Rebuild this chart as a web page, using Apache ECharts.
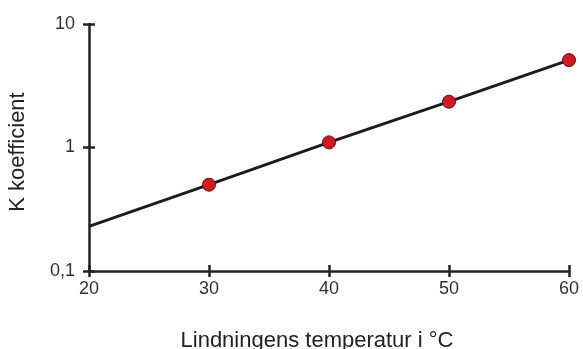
<!DOCTYPE html>
<html><head><meta charset="utf-8">
<script src="https://cdn.jsdelivr.net/npm/echarts@6/dist/echarts.min.js"></script>
<style>html,body{margin:0;padding:0;background:#fff}#c{width:583px;height:349px}</style>
</head><body><div id="c"></div>
<script>
var temps = [20, 30, 40, 50, 60];
var kValues = [0.23, 0.5, 1.1, 2.35, 5.1];
var showMarker = [false, true, true, true, true];
var xTicks = [20, 30, 40, 50, 60];
var yTickLabels = {0.1: '0,1', 1: '1', 10: '10'};
var xName = 'Lindningens temperatur i °C';
var yName = 'K koefficient';

var font = 'Liberation Sans, Arial, sans-serif';
var axisColor = '#222';
var data = temps.map(function (t, i) {
  return { value: [t, kValues[i]], symbolSize: showMarker[i] ? 13 : 0 };
});
function xAxisBase(inside) {
  return {
    type: 'value', position: 'bottom', min: xTicks[0], max: xTicks[xTicks.length - 1], interval: 10,
    axisLine: { show: !inside, lineStyle: { color: axisColor, width: 2.5 } },
    axisTick: { show: true, inside: inside, length: 6, lineStyle: { color: axisColor, width: 2.5 } },
    axisLabel: { show: !inside, color: '#333', fontFamily: font, fontSize: 18, margin: 9 },
    splitLine: { show: false }
  };
}
function yAxisBase(inside) {
  return {
    type: 'log', position: 'left', logBase: 10, min: 0.1, max: 10,
    axisLine: { show: !inside, lineStyle: { color: axisColor, width: 2.5 } },
    axisTick: { show: true, inside: inside, length: 6, lineStyle: { color: axisColor, width: 2.5 } },
    axisLabel: { show: !inside, color: '#333', fontFamily: font, fontSize: 18, margin: 14,
      padding: [0, 0, 14, 0],
      formatter: function (v) { return yTickLabels[v] !== undefined ? yTickLabels[v] : (v + '').replace('.', ','); } },
    splitLine: { show: false },
    minorTick: { show: false }
  };
}
var xa = xAxisBase(false);
xa.name = xName; xa.nameLocation = 'middle'; xa.nameGap = 59;
xa.nameTextStyle = { color: '#222', fontFamily: font, fontSize: 22, padding: [0, 24, 0, 0] };
var ya = yAxisBase(false);
ya.name = yName; ya.nameLocation = 'middle'; ya.nameGap = 60;
ya.nameTextStyle = { color: '#222', fontFamily: font, fontSize: 22, padding: [0, 9, 0, 0] };

var chart = echarts.init(document.getElementById('c'), null, { renderer: 'canvas' });
chart.setOption({
  animation: false,
  grid: { left: 89, right: 14, top: 24, bottom: 78, containLabel: false, outerBoundsMode: 'none' },
  xAxis: [xa, xAxisBase(true)],
  yAxis: [ya, yAxisBase(true)],
  series: [{
    type: 'line', data: data, xAxisIndex: 0, yAxisIndex: 0,
    symbol: 'circle',
    lineStyle: { color: '#1c1c1c', width: 3 },
    itemStyle: { color: '#d7161d', borderColor: '#5a1010', borderWidth: 1 },
    z: 3
  }]
});
</script></body></html>
